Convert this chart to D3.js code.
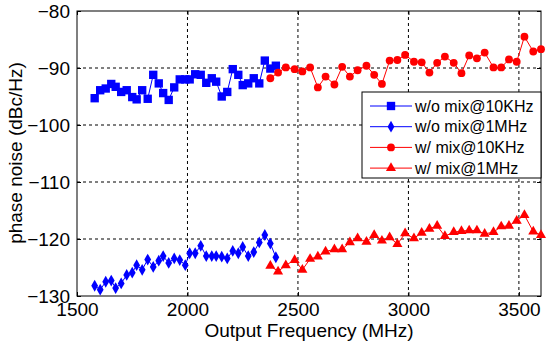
<!DOCTYPE html>
<html>
<head>
<meta charset="utf-8">
<script src="https://cdn.jsdelivr.net/npm/d3@7"></script>
<style>
  body { margin: 0; background: #fff; }
  text { font-family: "Liberation Sans", Arial, sans-serif; fill: #000; }
</style>
</head>
<body>
<div id="chart"></div>
<script>
// frequencies (MHz)
var blueFreq = [1580, 1605, 1630, 1655, 1675, 1700, 1725, 1750, 1770, 1795,
  1820, 1845, 1870, 1890, 1915, 1940, 1965, 1990, 2010, 2035,
  2060, 2085, 2110, 2130, 2155, 2180, 2205, 2230, 2250, 2275,
  2300, 2325, 2350, 2375, 2400];
var redFreq = [2375, 2410, 2445, 2485, 2520, 2555, 2590, 2625, 2665, 2700,
  2735, 2770, 2810, 2845, 2880, 2915, 2950, 2985, 3025, 3060,
  3095, 3130, 3165, 3205, 3240, 3275, 3310, 3345, 3385, 3420,
  3455, 3490, 3525, 3565, 3600];

// phase noise (dBc/Hz)
var woMix10k = [-95.3, -93.9, -93.6, -92.8, -93.3, -94.2, -93.9, -95.1, -95.5, -93.9,
  -95.4, -91.2, -92.7, -94.4, -95.6, -93.4, -92.0, -92.0, -92.0, -91.1,
  -91.2, -92.6, -91.8, -92.4, -95.0, -94.2, -90.2, -91.2, -93.0, -92.7,
  -91.8, -92.7, -88.7, -90.1, -89.6];
var woMix1M = [-128.2, -128.9, -127.5, -127.3, -128.6, -127.8, -126.3, -125.9, -124.6, -125.4,
  -123.6, -124.9, -123.8, -123.0, -124.2, -123.4, -123.7, -124.6, -122.5, -122.5,
  -121.2, -123.0, -123.0, -123.0, -123.1, -123.4, -122.1, -122.5, -121.4, -123.0,
  -122.3, -120.6, -119.3, -120.8, -123.2];
var wMix10k = [-91.8, -90.8, -89.9, -90.2, -90.6, -89.9, -93.4, -91.5, -92.9, -89.8,
  -91.5, -90.4, -89.6, -91.2, -92.8, -88.7, -88.6, -87.7, -88.9, -89.0,
  -90.8, -89.1, -88.0, -89.1, -90.9, -87.8, -88.3, -87.3, -89.9, -89.9,
  -88.5, -88.9, -84.5, -87.1, -86.7];
var wMix1M = [-124.7, -125.7, -124.6, -123.7, -125.4, -123.5, -123.1, -122.2, -121.8, -121.8,
  -120.6, -119.9, -120.5, -119.3, -120.3, -119.7, -120.9, -119.0, -119.9, -118.9,
  -118.2, -117.7, -119.5, -118.8, -118.6, -118.5, -118.5, -119.1, -118.8, -117.8,
  -117.7, -116.8, -115.8, -118.7, -119.3];

var xTicks = [1500, 2000, 2500, 3000, 3500];
var yTicks = [-130, -120, -110, -100, -90, -80];

var svgWidth = 550;
var svgHeight = 348;
var margin = { top: 11, right: 9, bottom: 52, left: 77 };
var width = svgWidth - margin.left - margin.right;
var height = svgHeight - margin.top - margin.bottom;

var svg = d3.select("#chart")
  .append("svg")
  .attr("width", svgWidth)
  .attr("height", svgHeight);

var chartGroup = svg.append("g")
  .attr("transform", `translate(${margin.left}, ${margin.top})`);

var xScale = d3.scaleLinear().domain([1500, 3600]).range([0, width]);
var yScale = d3.scaleLinear().domain([-130, -80]).range([height, 0]);

// dashed grid
chartGroup.append("g")
  .selectAll("line")
  .data(xTicks.slice(1))
  .enter()
  .append("line")
  .attr("x1", d => xScale(d)).attr("x2", d => xScale(d))
  .attr("y1", 0).attr("y2", height)
  .attr("stroke", "#000").attr("stroke-width", 1)
  .attr("stroke-dasharray", "3,3");
chartGroup.append("g")
  .selectAll("line")
  .data(yTicks.slice(1, -1))
  .enter()
  .append("line")
  .attr("x1", 0).attr("x2", width)
  .attr("y1", d => yScale(d)).attr("y2", d => yScale(d))
  .attr("stroke", "#000").attr("stroke-width", 1)
  .attr("stroke-dasharray", "3,3");

// axes
var fmt = d3.format("d");
var bottomAxis = d3.axisBottom(xScale).tickValues(xTicks).tickFormat(fmt).tickSizeInner(-4).tickSizeOuter(0).tickPadding(7);
var leftAxis = d3.axisLeft(yScale).tickValues(yTicks).tickFormat(fmt).tickSizeInner(-4).tickSizeOuter(0).tickPadding(7);
var topAxis = d3.axisTop(xScale).tickValues(xTicks).tickSizeInner(-4).tickSizeOuter(0).tickFormat("");
var rightAxis = d3.axisRight(yScale).tickValues(yTicks).tickSizeInner(-4).tickSizeOuter(0).tickFormat("");

var xAxis = chartGroup.append("g")
  .attr("transform", `translate(0, ${height})`)
  .call(bottomAxis);
var yAxis = chartGroup.append("g").call(leftAxis);
chartGroup.append("g").call(topAxis);
chartGroup.append("g").attr("transform", `translate(${width}, 0)`).call(rightAxis);

chartGroup.selectAll(".domain").remove();
chartGroup.selectAll(".tick line").attr("stroke", "#000");
xAxis.selectAll("text").attr("font-size", "19px").attr("font-family", "Liberation Sans, Arial, sans-serif").attr("fill", "#000");
yAxis.selectAll("text").attr("font-size", "19px").attr("font-family", "Liberation Sans, Arial, sans-serif").attr("fill", "#000");

chartGroup.append("rect")
  .attr("x", 0).attr("y", 0)
  .attr("width", width).attr("height", height)
  .attr("fill", "none").attr("stroke", "#000").attr("stroke-width", 1);

// series
var series = [
  { name: "w/o mix@10KHz", freq: blueFreq, vals: woMix10k, color: "#0000ff", type: d3.symbolSquare, size: 70 },
  { name: "w/o mix@1MHz", freq: blueFreq, vals: woMix1M, color: "#0000ff", type: d3.symbolDiamond, size: 40 },
  { name: "w/ mix@10KHz", freq: redFreq, vals: wMix10k, color: "#ff0000", type: d3.symbolCircle, size: 48 },
  { name: "w/ mix@1MHz", freq: redFreq, vals: wMix1M, color: "#ff0000", type: d3.symbolTriangle, size: 44 }
];

var line = d3.line()
  .x(d => xScale(d[0]))
  .y(d => yScale(d[1]));

series.forEach(function(s) {
  var pts = s.freq.map((f, i) => [f, s.vals[i]]);
  chartGroup.append("path")
    .datum(pts)
    .attr("d", line)
    .attr("fill", "none")
    .attr("stroke", s.color)
    .attr("stroke-width", 1);
  chartGroup.append("g")
    .selectAll("path")
    .data(pts)
    .enter()
    .append("path")
    .attr("transform", d => `translate(${xScale(d[0])}, ${yScale(d[1])})`)
    .attr("d", d3.symbol().type(s.type).size(s.size))
    .attr("fill", s.color);
});

// legend
var legend = svg.append("g").attr("transform", "translate(362, 92)");
legend.append("rect")
  .attr("x", 0).attr("y", 0)
  .attr("width", 179).attr("height", 86)
  .attr("fill", "#fff").attr("stroke", "#000").attr("stroke-width", 1);
series.forEach(function(s, i) {
  var ly = 14 + i * 20.7;
  legend.append("line")
    .attr("x1", 8).attr("x2", 50)
    .attr("y1", ly).attr("y2", ly)
    .attr("stroke", s.color).attr("stroke-width", 1);
  legend.append("path")
    .attr("transform", `translate(29, ${ly})`)
    .attr("d", d3.symbol().type(s.type).size(s.size))
    .attr("fill", s.color);
  legend.append("text")
    .attr("x", 53).attr("y", ly)
    .attr("dy", "0.35em")
    .attr("font-size", "16px")
    .text(s.name);
});

// axis labels
svg.append("text")
  .attr("x", margin.left + width / 2)
  .attr("y", 337)
  .attr("text-anchor", "middle")
  .attr("font-size", "19px")
  .text("Output Frequency (MHz)");
svg.append("text")
  .attr("transform", "rotate(-90)")
  .attr("x", -153)
  .attr("y", 22)
  .attr("text-anchor", "middle")
  .attr("font-size", "19px")
  .text("phase noise (dBc/Hz)");
</script>
</body>
</html>
